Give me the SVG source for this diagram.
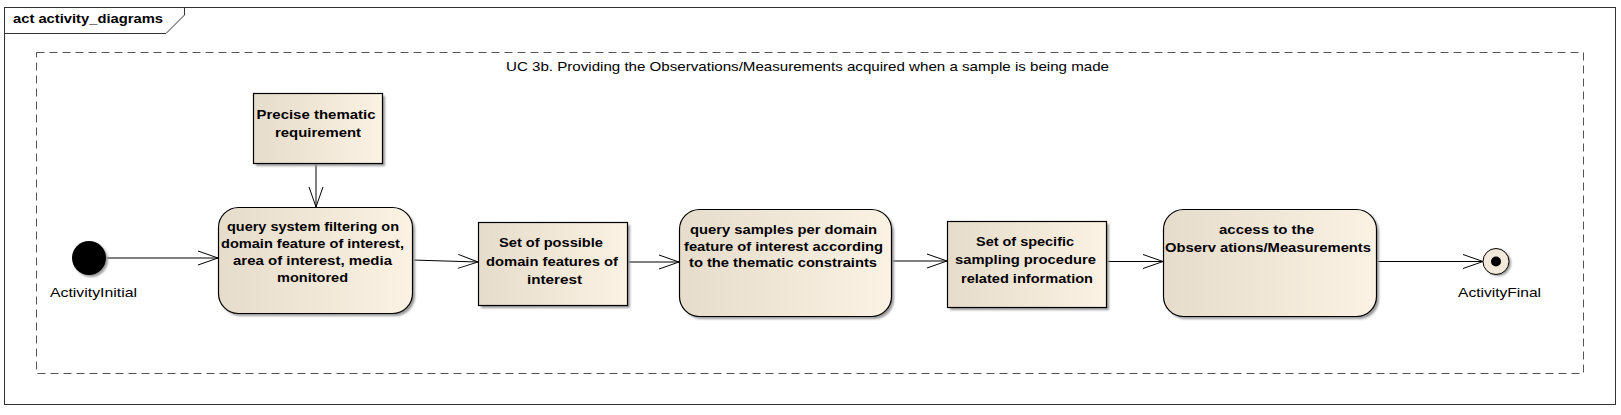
<svg xmlns="http://www.w3.org/2000/svg" width="1621" height="415" viewBox="0 0 1621 415">
<defs>
<linearGradient id="g" x1="0" y1="0" x2="1" y2="0">
<stop offset="0" stop-color="#E6DCCB"/>
<stop offset="1" stop-color="#FCF2E3"/>
</linearGradient>
<filter id="sh" x="-10%" y="-10%" width="130%" height="130%">
<feGaussianBlur stdDeviation="1.2"/>
</filter>
<marker id="arr" markerWidth="24" markerHeight="18" refX="21" refY="8" orient="auto" markerUnits="userSpaceOnUse">
<path d="M1,1 L21,8 L1,15" fill="none" stroke="#000" stroke-width="1"/>
</marker>
</defs>
<style>
.node{fill:url(#g);stroke:#000;stroke-width:1.2}
.shadow{fill:#999;filter:url(#sh)}
.t{font-family:"Liberation Sans",Arial,sans-serif;font-size:12.5px;font-weight:bold;fill:#000;text-anchor:middle}
.lbl{font-family:"Liberation Sans",Arial,sans-serif;font-size:13px;fill:#000}
.edge{fill:none;stroke:#000;stroke-width:1;marker-end:url(#arr)}
</style>
<rect width="1621" height="415" fill="#fff"/>
<g id="frame">
<rect x="4.5" y="7.5" width="1611" height="397" fill="none" stroke="#333" stroke-width="1"/>
<path d="M4.5,33.5 L166,33.5 L184.5,15 L184.5,7.5" fill="none" stroke="#333" stroke-width="1"/>
<text x="13" y="23" class="lbl" style="font-weight:bold" textLength="150" lengthAdjust="spacingAndGlyphs">act activity_diagrams</text>
</g>
<g id="partition">
<rect x="36.5" y="52.5" width="1547" height="321" fill="none" stroke="#555" stroke-width="1" stroke-dasharray="8,5"/>
<text x="506" y="71" class="lbl" textLength="603" lengthAdjust="spacingAndGlyphs">UC 3b. Providing the Observations/Measurements acquired when a sample is being made</text>
</g>
<g id="connectors">
<path class="edge" d="M106,258 L218,258"/>
<path class="edge" d="M316,163 L316,207"/>
<path class="edge" d="M412,260 L478,262"/>
<path class="edge" d="M627,262 L679,262"/>
<path class="edge" d="M891,261 L947,261"/>
<path class="edge" d="M1106,261.5 L1163,261.5"/>
<path class="edge" d="M1376,261.5 L1483,261.5"/>
</g>
<g id="initial">
<circle cx="91" cy="260" r="17" class="shadow"/>
<circle cx="89" cy="258" r="17" fill="#000"/>
<text x="50" y="297" class="lbl" textLength="87" lengthAdjust="spacingAndGlyphs">ActivityInitial</text>
</g>
<g id="precise">
<rect x="256" y="96" width="129" height="70" class="shadow"/>
<rect x="253.5" y="93.5" width="129" height="70" class="node"/>
<text class="t"><tspan x="316" y="119" textLength="119" lengthAdjust="spacingAndGlyphs">Precise thematic</tspan><tspan x="318" y="137" textLength="86" lengthAdjust="spacingAndGlyphs">requirement</tspan></text>
</g>
<g id="querySystem">
<rect x="221" y="210" width="194" height="106" rx="20" class="shadow"/>
<rect x="218.5" y="207.5" width="194" height="106" rx="20" class="node"/>
<text class="t"><tspan x="313" y="231" textLength="172" lengthAdjust="spacingAndGlyphs">query system filtering on</tspan><tspan x="312.5" y="248" textLength="183" lengthAdjust="spacingAndGlyphs">domain feature of interest,</tspan><tspan x="312.5" y="265" textLength="159" lengthAdjust="spacingAndGlyphs">area of interest, media</tspan><tspan x="312.5" y="282" textLength="71" lengthAdjust="spacingAndGlyphs">monitored</tspan></text>
</g>
<g id="possibleFeatures">
<rect x="481" y="225" width="149" height="83" class="shadow"/>
<rect x="478.5" y="222.5" width="149" height="83" class="node"/>
<text class="t"><tspan x="551" y="247" textLength="104" lengthAdjust="spacingAndGlyphs">Set of possible</tspan><tspan x="552" y="266" textLength="132" lengthAdjust="spacingAndGlyphs">domain features of</tspan><tspan x="554.5" y="284" textLength="55" lengthAdjust="spacingAndGlyphs">interest</tspan></text>
</g>
<g id="querySamples">
<rect x="682" y="212" width="212" height="107" rx="20" class="shadow"/>
<rect x="679.5" y="209.5" width="212" height="107" rx="20" class="node"/>
<text class="t"><tspan x="783.5" y="234" textLength="187" lengthAdjust="spacingAndGlyphs">query samples per domain</tspan><tspan x="783.5" y="251" textLength="199" lengthAdjust="spacingAndGlyphs">feature of interest according</tspan><tspan x="783" y="267" textLength="188" lengthAdjust="spacingAndGlyphs">to the thematic constraints</tspan></text>
</g>
<g id="specificSampling">
<rect x="950" y="224" width="159" height="86" class="shadow"/>
<rect x="947.5" y="221.5" width="159" height="86" class="node"/>
<text class="t"><tspan x="1025" y="246" textLength="98" lengthAdjust="spacingAndGlyphs">Set of specific</tspan><tspan x="1025.5" y="264" textLength="141" lengthAdjust="spacingAndGlyphs">sampling procedure</tspan><tspan x="1027" y="283" textLength="132" lengthAdjust="spacingAndGlyphs">related information</tspan></text>
</g>
<g id="access">
<rect x="1166" y="212" width="213" height="107" rx="20" class="shadow"/>
<rect x="1163.5" y="209.5" width="213" height="107" rx="20" class="node"/>
<text class="t"><tspan x="1266.5" y="234" textLength="95" lengthAdjust="spacingAndGlyphs">access to the</tspan><tspan x="1268" y="252" textLength="206" lengthAdjust="spacingAndGlyphs">Observ ations/Measurements</tspan></text>
</g>
<g id="final">
<circle cx="1498" cy="263" r="13" class="shadow"/>
<circle cx="1496" cy="261.5" r="13" fill="#F3E9DA" stroke="#000" stroke-width="1"/>
<circle cx="1496" cy="261.5" r="5" fill="#000"/>
<text x="1458" y="297" class="lbl" textLength="83" lengthAdjust="spacingAndGlyphs">ActivityFinal</text>
</g>
</svg>
